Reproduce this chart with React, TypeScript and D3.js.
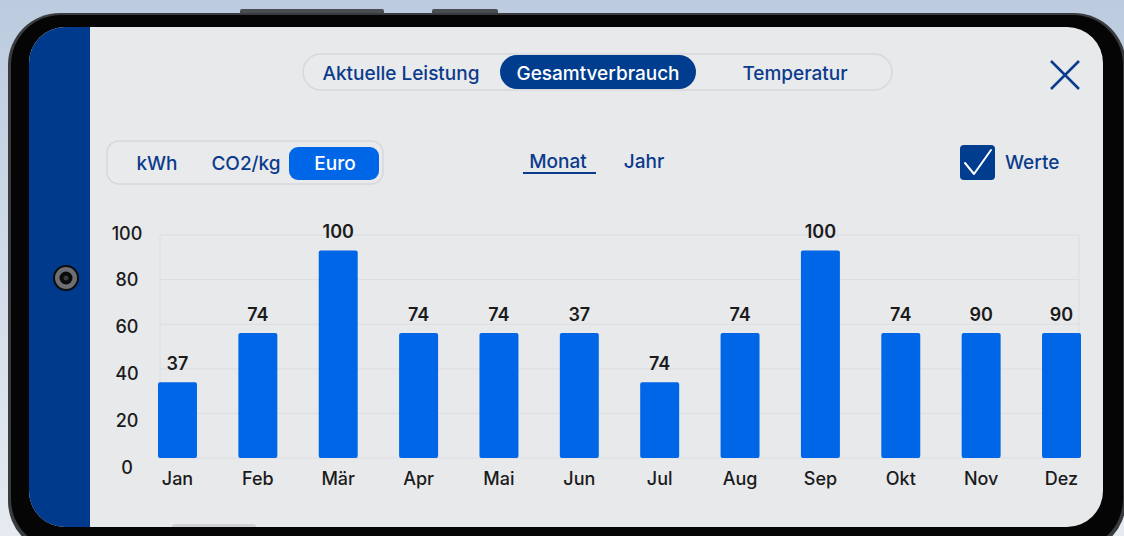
import React, { useRef, useEffect } from 'react';
import * as d3 from 'd3';

const months = ['Jan', 'Feb', 'Mär', 'Apr', 'Mai', 'Jun', 'Jul', 'Aug', 'Sep', 'Okt', 'Nov', 'Dez'];
const barValues = [34, 56, 93, 56, 56, 56, 34, 56, 93, 56, 56, 56];
const valueLabels = ['37', '74', '100', '74', '74', '37', '74', '74', '100', '74', '90', '90'];
const yTicks = [0, 20, 40, 60, 80, 100];
const topTabs = ['Aktuelle Leistung', 'Gesamtverbrauch', 'Temperatur'];
const unitTabs = ['kWh', 'CO2/kg', 'Euro'];
const periodTabs = ['Monat', 'Jahr'];
const checkLabel = 'Werte';

const W = 1124;
const H = 536;
const FONT = 'Inter, "Liberation Sans", Arial, sans-serif';
const NAVY = '#0b3b8c';
const BRIGHT = '#0066e8';

const App = () => {
    const svgRef = useRef<SVGSVGElement>(null);

    useEffect(() => {
        const svg = d3.select(svgRef.current);
        svg.selectAll('*').remove();

        const defs = svg.append('defs');
        const bg = defs.append('linearGradient').attr('id', 'bg').attr('x1', 0).attr('y1', 0).attr('x2', 0).attr('y2', 1);
        bg.append('stop').attr('offset', '0%').attr('stop-color', '#bccbdf');
        bg.append('stop').attr('offset', '100%').attr('stop-color', '#e6ebf1');
        defs.append('clipPath').attr('id', 'screen')
            .append('rect').attr('x', 29).attr('y', 27).attr('width', 1074).attr('height', 500).attr('rx', 36);

        // backdrop + phone body
        svg.append('rect').attr('width', W).attr('height', H).attr('fill', 'url(#bg)');
        svg.append('rect').attr('x', 240).attr('y', 9).attr('width', 144).attr('height', 8).attr('rx', 2).attr('fill', '#4a4d52');
        svg.append('rect').attr('x', 432).attr('y', 9).attr('width', 66).attr('height', 8).attr('rx', 2).attr('fill', '#4a4d52');
        svg.append('rect').attr('x', 8).attr('y', 13).attr('width', 1118).attr('height', 540).attr('rx', 52).attr('fill', '#3a3b3e');
        svg.append('rect').attr('x', 11).attr('y', 15).attr('width', 1112).attr('height', 534).attr('rx', 50).attr('fill', '#050505');

        const screen = svg.append('g').attr('clip-path', 'url(#screen)');
        screen.append('rect').attr('x', 29).attr('y', 27).attr('width', 1074).attr('height', 500).attr('fill', '#e8e9eb');
        screen.append('rect').attr('x', 29).attr('y', 27).attr('width', 61).attr('height', 500).attr('fill', '#003a8c');
        screen.append('rect').attr('x', 172).attr('y', 524).attr('width', 84).attr('height', 6).attr('rx', 3).attr('fill', '#cfd1d4');

        // camera
        svg.append('circle').attr('cx', 66).attr('cy', 278).attr('r', 13).attr('fill', '#0c0c0c');
        svg.append('circle').attr('cx', 66).attr('cy', 278).attr('r', 11).attr('fill', '#6e6f72');
        svg.append('circle').attr('cx', 66).attr('cy', 278).attr('r', 6.5).attr('fill', '#0a0a0a');
        svg.append('circle').attr('cx', 66).attr('cy', 278).attr('r', 2.5).attr('fill', '#3a3b3e');

        // top segmented control
        screen.append('rect').attr('x', 303).attr('y', 54).attr('width', 589).attr('height', 36).attr('rx', 18)
            .attr('fill', '#e9eaec').attr('stroke', '#d6d8dc').attr('stroke-width', 1.5);
        screen.append('rect').attr('x', 500).attr('y', 55).attr('width', 196).attr('height', 34).attr('rx', 17).attr('fill', '#003d8f');
        const topX = [401, 598, 795];
        topTabs.forEach((t, i) => {
            screen.append('text').attr('x', topX[i]).attr('y', 73).attr('text-anchor', 'middle')
                .attr('dominant-baseline', 'central').attr('font-family', FONT).attr('font-size', 19).attr('font-weight', 500)
                .attr('fill', i === 1 ? '#ffffff' : NAVY).text(t);
        });

        // close icon
        screen.append('path').attr('d', 'M1051,61 L1079,89 M1079,61 L1051,89')
            .attr('stroke', NAVY).attr('stroke-width', 2.5).attr('fill', 'none');

        // unit segmented control
        screen.append('rect').attr('x', 107).attr('y', 141).attr('width', 276).attr('height', 43).attr('rx', 12)
            .attr('fill', '#e9eaec').attr('stroke', '#d6d8dc').attr('stroke-width', 1.5);
        screen.append('rect').attr('x', 289).attr('y', 147).attr('width', 90).attr('height', 33).attr('rx', 9).attr('fill', BRIGHT);
        const unitX = [157, 246, 335];
        unitTabs.forEach((t, i) => {
            screen.append('text').attr('x', unitX[i]).attr('y', 163).attr('text-anchor', 'middle')
                .attr('dominant-baseline', 'central').attr('font-family', FONT).attr('font-size', 19).attr('font-weight', 500)
                .attr('fill', i === 2 ? '#ffffff' : NAVY).text(t);
        });

        // period tabs
        const periodX = [558, 644];
        periodTabs.forEach((t, i) => {
            screen.append('text').attr('x', periodX[i]).attr('y', 161).attr('text-anchor', 'middle')
                .attr('dominant-baseline', 'central').attr('font-family', FONT).attr('font-size', 19).attr('font-weight', 500)
                .attr('fill', NAVY).text(t);
        });
        screen.append('rect').attr('x', 523).attr('y', 172).attr('width', 73).attr('height', 2).attr('fill', NAVY);

        // checkbox
        screen.append('rect').attr('x', 960).attr('y', 145).attr('width', 35).attr('height', 35).attr('rx', 4).attr('fill', '#003d8f');
        screen.append('path').attr('d', 'M965,163 L974,174 L991,150').attr('stroke', '#fff').attr('stroke-width', 2)
            .attr('fill', 'none').attr('stroke-linecap', 'round').attr('stroke-linejoin', 'round');
        screen.append('text').attr('x', 1005).attr('y', 162).attr('dominant-baseline', 'central')
            .attr('font-family', FONT).attr('font-size', 19).attr('font-weight', 500).attr('fill', NAVY).text(checkLabel);

        // chart
        const x = d3.scaleBand().domain(months).range([158, 1081]).paddingInner(0.515).paddingOuter(0);
        const y = d3.scaleLinear().domain([0, 100]).range([458, 235]);
        const yText = d3.scaleLinear().domain([0, 100]).range([467, 233]);

        const grid = screen.append('g');
        grid.selectAll('line.h').data(yTicks).join('line')
            .attr('x1', 160).attr('x2', 1079).attr('y1', d => y(d)).attr('y2', d => y(d))
            .attr('stroke', '#dcdde1').attr('stroke-width', 1);
        grid.selectAll('line.v').data([160, 1079]).join('line')
            .attr('x1', d => d).attr('x2', d => d).attr('y1', y(100)).attr('y2', y(0))
            .attr('stroke', '#dcdde1').attr('stroke-width', 1);

        screen.append('g').selectAll('text').data(yTicks).join('text')
            .attr('x', 127).attr('y', d => yText(d)).attr('text-anchor', 'middle')
            .attr('dominant-baseline', 'central').attr('font-family', FONT).attr('font-size', 18).attr('font-weight', 500)
            .attr('fill', '#1b1b1b').text(d => d);

        screen.append('g').selectAll('rect').data(barValues).join('rect')
            .attr('x', (d, i) => x(months[i]) as number).attr('y', d => y(d))
            .attr('width', x.bandwidth()).attr('height', d => y(0) - y(d))
            .attr('rx', 2).attr('fill', BRIGHT);

        screen.append('g').selectAll('text').data(barValues).join('text')
            .attr('x', (d, i) => (x(months[i]) as number) + x.bandwidth() / 2).attr('y', d => y(d) - 19)
            .attr('text-anchor', 'middle').attr('dominant-baseline', 'central')
            .attr('font-family', FONT).attr('font-size', 18).attr('font-weight', 600)
            .attr('fill', '#1b1b1b').text((d, i) => valueLabels[i]);

        screen.append('g').selectAll('text').data(months).join('text')
            .attr('x', d => (x(d) as number) + x.bandwidth() / 2).attr('y', 478)
            .attr('text-anchor', 'middle').attr('dominant-baseline', 'central')
            .attr('font-family', FONT).attr('font-size', 18).attr('font-weight', 500).attr('fill', '#1b1b1b').text(d => d);
    }, []);

    return <svg ref={svgRef} width={W} height={H} style={{ position: 'absolute', left: 0, top: 0 }}></svg>;
};

export default App;
